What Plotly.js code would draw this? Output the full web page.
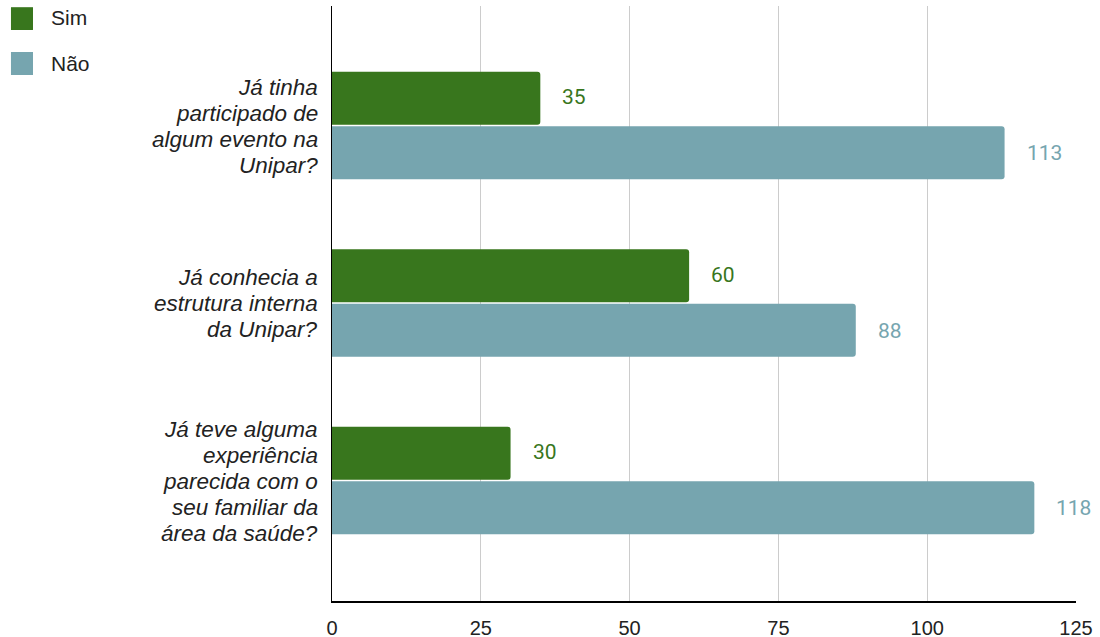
<!DOCTYPE html>
<html>
<head>
<meta charset="utf-8">
<script src="https://cdn.plot.ly/plotly-3.0.1.min.js"></script>
<style>html,body{margin:0;padding:0;background:#fff;}#chart{width:1100px;height:637px;}</style>
</head>
<body>
<div id="chart"></div>
<script>
const categories = [
  "Já tinha<br>participado de<br>algum evento na<br>Unipar?",
  "Já conhecia a<br>estrutura interna<br>da Unipar?",
  "Já teve alguma<br>experiência<br>parecida com o<br>seu familiar da<br>área da saúde?"
];
const seriesNames = ["Sim", "Não"];
const simValues = [35, 60, 30];
const naoValues = [113, 88, 118];
const xTicks = [0, 25, 50, 75, 100, 125];

const colors = ["#38761d", "#76a5af"];
const font = "Liberation Sans, Arial, sans-serif";

const traces = [simValues, naoValues].map((vals, i) => ({
  type: "bar",
  orientation: "h",
  name: seriesNames[i],
  x: vals,
  y: categories,
  marker: {color: colors[i], cornerradius: 3},
  showlegend: false,
  hoverinfo: "x"
}));

const annotations = [];
// value labels
[simValues, naoValues].forEach((vals, i) => {
  vals.forEach((v, j) => {
    annotations.push({
      x: v, y: categories[j], xref: "x", yref: "y",
      text: String(v), showarrow: false,
      xanchor: "left", yanchor: "middle", xshift: 20, yshift: i === 0 ? 28 : -28,
      font: {family: "Roboto, sans-serif", size: 21, color: colors[i]}
    });
  });
});

// category labels, one line per annotation for tighter line spacing
const lineGap = 26;
categories.forEach((c) => {
  const lines = c.split("<br>");
  const n = lines.length;
  lines.forEach((ln, k) => {
    annotations.push({
      xref: "paper", x: 0, yref: "y", y: c,
      xanchor: "right", yanchor: "middle", xshift: -12,
      yshift: ((n - 1) / 2 - k) * lineGap - 1,
      text: ln, showarrow: false,
      font: {family: font, size: 22.5, color: "#222", style: "italic"}
    });
  });
});

// legend drawn as swatches + text
const legendY = [[0.998, 0.9597, 0.980], [0.9227, 0.884, 0.904]];
const shapes = [];
seriesNames.forEach((n, i) => {
  shapes.push({
    type: "rect", xref: "paper", yref: "paper",
    x0: -0.4315, x1: -0.4019, y0: legendY[i][1], y1: legendY[i][0],
    fillcolor: colors[i], line: {width: 0}
  });
  annotations.push({
    xref: "paper", yref: "paper", x: -0.381, y: legendY[i][2],
    xanchor: "left", yanchor: "middle", text: n, showarrow: false,
    font: {family: font, size: 21, color: "#222"}
  });
});

const layout = {
  width: 1100, height: 637,
  margin: {l: 332, r: 24, t: 6, b: 36, pad: 0},
  paper_bgcolor: "#fff", plot_bgcolor: "#fff",
  barmode: "group",
  bargap: 0.386,
  bargroupgap: 0.03,
  showlegend: false,
  xaxis: {
    range: [0, 125], tickvals: xTicks, ticktext: xTicks.map(String),
    showgrid: true, gridcolor: "#cccccc", gridwidth: 1.3,
    zeroline: false, showline: true, linecolor: "#000", linewidth: 1.5,
    ticks: "", ticklabelstandoff: 8,
    tickfont: {family: font, size: 20, color: "#222"}
  },
  yaxis: {
    type: "category",
    range: [2.679, -0.673],
    showgrid: false, zeroline: false,
    showline: true, linecolor: "#000", linewidth: 1.5,
    ticks: "", showticklabels: false
  },
  annotations: annotations,
  shapes: shapes
};

Plotly.newPlot("chart", traces, layout, {displayModeBar: false, staticPlot: true});
</script>
</body>
</html>
